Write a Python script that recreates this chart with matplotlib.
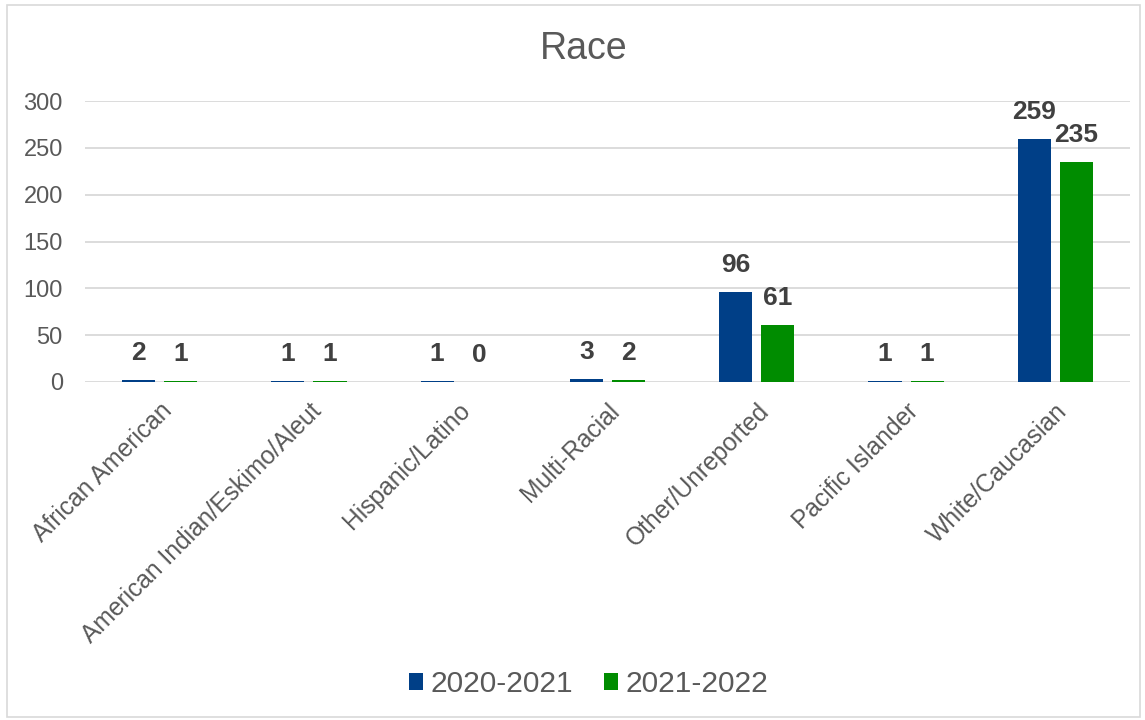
import numpy as np
import matplotlib.pyplot as plt
from matplotlib.patches import Rectangle

# Chart data
categories = ['African American', 'American Indian/Eskimo/Aleut', 'Hispanic/Latino',
              'Multi-Racial', 'Other/Unreported', 'Pacific Islander', 'White/Caucasian']
series_names = ['2020-2021', '2021-2022']
values_2020 = [2, 1, 1, 3, 96, 1, 259]
values_2021 = [1, 1, 0, 2, 61, 1, 235]
y_ticks = [0, 50, 100, 150, 200, 250, 300]

blue = '#003F87'
green = '#008C00'
text_grey = '#595959'
label_grey = '#404040'

plt.rcParams['font.family'] = ['Liberation Sans', 'DejaVu Sans']

fig = plt.figure(figsize=(11.45, 7.2), dpi=100)
ax = fig.add_axes([85 / 1145, 1 - 382 / 720, 1045 / 1145, 281 / 720])

x = np.arange(len(categories))
width = 0.222
gap = 0.06
b1 = ax.bar(x - (width + gap) / 2, values_2020, width, color=blue, label=series_names[0], zorder=3)
b2 = ax.bar(x + (width + gap) / 2, values_2021, width, color=green, label=series_names[1], zorder=3)

for bars in (b1, b2):
    for rect in bars:
        h = rect.get_height()
        ax.annotate(f'{h:g}', (rect.get_x() + rect.get_width() / 2, h),
                    xytext=(0, 11), textcoords='offset points', ha='center', va='bottom',
                    fontsize=19, fontweight='bold', color=label_grey)

ax.set_ylim(0, 300)
ax.set_xlim(-0.5, len(categories) - 0.5)
ax.set_yticks(y_ticks)
ax.tick_params(axis='y', length=0, pad=16, labelsize=17, labelcolor=text_grey)
ax.set_xticks(x)
ax.set_xticklabels(categories, rotation=45, ha='right', rotation_mode='anchor',
                   fontsize=17.7, color=text_grey)
ax.tick_params(axis='x', length=0, pad=12)
ax.grid(axis='y', color='#D9D9D9', linewidth=1.3, zorder=0)
for s in ax.spines.values():
    s.set_visible(False)

fig.text(0.51, 1 - 49 / 720, 'Race', ha='center', va='center', fontsize=27, color=text_grey)

leg = fig.legend(loc='center', bbox_to_anchor=(0.514, 1 - 684 / 720), ncol=2, frameon=False,
                 fontsize=21.5, handlelength=0.47, handleheight=0.47, handletextpad=0.25,
                 columnspacing=1.05)
for t in leg.get_texts():
    t.set_color(text_grey)

fig.patches.append(Rectangle((7 / 1145, 3 / 720), 1 - 12 / 1145, 1 - 8 / 720,
                             transform=fig.transFigure, fill=False,
                             edgecolor='#D9D9D9', linewidth=1.2))

fig.savefig('out.png', dpi=100)
